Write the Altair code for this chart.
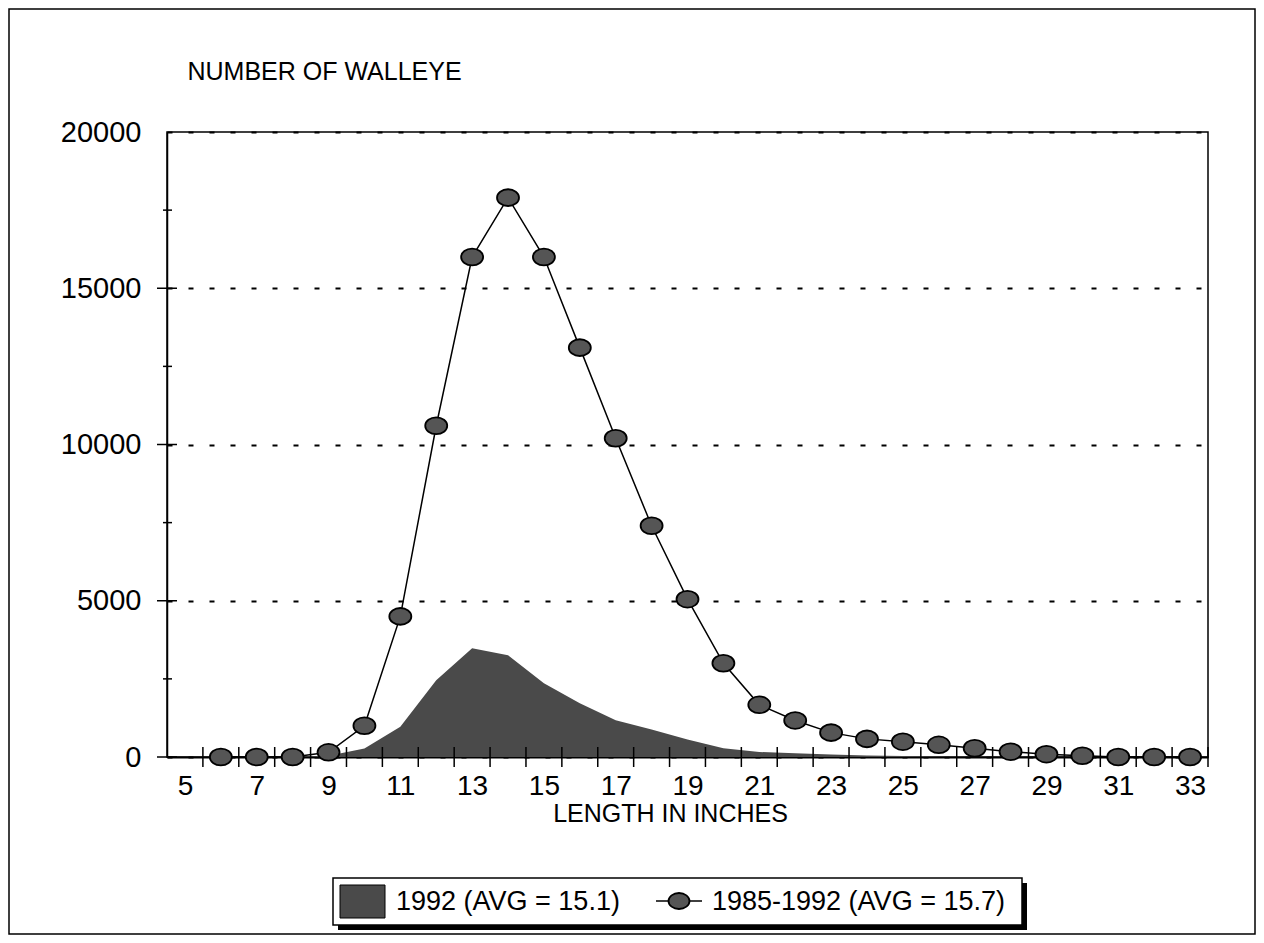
import altair as alt
import pandas as pd

# ---- data ----
lengths = list(range(6, 34))
avg_1985_1992 = [0, 0, 0, 150, 1000, 4500, 10600, 16000, 17900, 16000, 13100, 10200,
                 7400, 5050, 3000, 1670, 1170, 780, 580, 490, 390, 280, 170, 90, 40, 0, 0, 0]
catch_1992 = [0, 0, 0, 40, 270, 970, 2460, 3480, 3260, 2360, 1720, 1180,
              880, 560, 280, 160, 120, 80, 50, 30, 20, 10, 5, 0, 0, 0, 0, 0]
series_names = ["1992 (AVG = 15.1)", "1985-1992 (AVG = 15.7)"]
x_label_values = [5, 7, 9, 11, 13, 15, 17, 19, 21, 23, 25, 27, 29, 31, 33]
x_tick_marks = [5.5, 6.5, 7.5, 8.5, 9.5, 10.5, 11.5, 12.5, 13.5, 14.5, 15.5, 16.5, 17.5,
                18.5, 19.5, 20.5, 21.5, 22.5, 23.5, 24.5, 25.5, 26.5, 27.5, 28.5, 29.5,
                30.5, 31.5, 32.5, 33.5]
y_label_values = [0, 5000, 10000, 15000, 20000]
y_major_ticks = [0, 5000, 10000, 15000]
y_minor_ticks = [2500, 7500, 12500, 17500]

df_area = pd.DataFrame({"length": lengths, "value": catch_1992})
df_line = pd.DataFrame({"length": lengths, "value": avg_1985_1992})

W, H = 1041, 625
FONT = "Liberation Sans"
AREA_FILL = "#4a4a4a"
POINT_FILL = "#555555"

ellipse = ("M-1,0 C-1,-0.42 -0.552,-0.76 0,-0.76 C0.552,-0.76 1,-0.42 1,0 "
           "C1,0.42 0.552,0.76 0,0.76 C-0.552,0.76 -1,0.42 -1,0 Z")

xscale = alt.Scale(domain=[4.5, 33.5], nice=False, zero=False)
yscale = alt.Scale(domain=[0, 20000], nice=False)

x_axis = alt.Axis(values=x_label_values, ticks=False, grid=False, labelFlush=False,
                  labelPadding=15, labelFont=FONT, labelFontSize=28, labelColor="black",
                  domainColor="black", domainWidth=2,
                  title="LENGTH IN INCHES", titleFont=FONT, titleFontSize=25,
                  titleFontWeight="normal", titleColor="black",
                  titleX=503, titleY=64, titleAlign="center", titleBaseline="alphabetic")
y_axis = alt.Axis(values=y_label_values, ticks=False, grid=True, gridDash=[5, 16],
                  gridColor="black", gridWidth=1.8, labelFlush=False, format="d",
                  labelPadding=26, labelFont=FONT, labelFontSize=29, labelColor="black",
                  domainColor="black", domainWidth=1.5,
                  title="NUMBER OF WALLEYE", titleAngle=0, titleX=20, titleY=-53,
                  titleAlign="left", titleBaseline="alphabetic", titleFont=FONT,
                  titleFontSize=25, titleFontWeight="normal", titleColor="black")

X = alt.X("length:Q", scale=xscale, axis=x_axis)
Y = alt.Y("value:Q", scale=yscale, axis=y_axis)

area = alt.Chart(df_area).mark_area(opacity=1, color=AREA_FILL).encode(x=X, y=Y)
line = alt.Chart(df_line).mark_line(color="black", strokeWidth=1.5).encode(x=X, y=Y)
points = alt.Chart(df_line).mark_point(filled=True, shape=ellipse, size=484, opacity=1,
                                        fill=POINT_FILL, stroke="black", strokeWidth=1.8).encode(x=X, y=Y)

xt = alt.Chart(pd.DataFrame({"length": x_tick_marks})).mark_rule(color="black", strokeWidth=1.5).encode(
    x=X, y=alt.value(H - 10), y2=alt.value(H + 10))
ytm = alt.Chart(pd.DataFrame({"value": y_major_ticks})).mark_rule(color="black", strokeWidth=1.5).encode(
    y=Y, x=alt.value(-10), x2=alt.value(10))
ytn = alt.Chart(pd.DataFrame({"value": y_minor_ticks})).mark_rule(color="black", strokeWidth=1.5).encode(
    y=Y, x=alt.value(-4), x2=alt.value(5))

one = pd.DataFrame({"f": [0]})
frame = alt.Chart(one).mark_rect(fillOpacity=0, stroke="black", strokeWidth=1.5).encode(
    x=alt.value(-158), x2=alt.value(1088), y=alt.value(-123), y2=alt.value(802))

# ---- legend (boxed key below the plot) ----
LX, LY = 166, 746          # top-left of legend box relative to the plot origin
LW, LH = 689, 47
leg_shadow = alt.Chart(one).mark_rect(fill="black").encode(
    x=alt.value(LX + 5), x2=alt.value(LX + LW + 5), y=alt.value(LY + 5), y2=alt.value(LY + LH + 5))
leg_box = alt.Chart(one).mark_rect(fill="white", stroke="black", strokeWidth=1.5).encode(
    x=alt.value(LX), x2=alt.value(LX + LW), y=alt.value(LY), y2=alt.value(LY + LH))
leg_swatch = alt.Chart(one).mark_rect(fill=AREA_FILL, stroke="black", strokeWidth=1).encode(
    x=alt.value(LX + 7), x2=alt.value(LX + 52), y=alt.value(LY + 7), y2=alt.value(LY + 40))
leg_line = alt.Chart(one).mark_rule(color="black", strokeWidth=1.5).encode(
    x=alt.value(LX + 323), x2=alt.value(LX + 369), y=alt.value(LY + 23))
leg_point = alt.Chart(one).mark_point(filled=True, shape=ellipse, size=441, opacity=1,
                                      fill=POINT_FILL, stroke="black", strokeWidth=1.8).encode(
    x=alt.value(LX + 346), y=alt.value(LY + 23))
leg_text1 = alt.Chart(one).mark_text(align="left", baseline="middle", font=FONT, fontSize=27,
                                     color="black").encode(
    x=alt.value(LX + 63), y=alt.value(LY + 24), text=alt.value(series_names[0]))
leg_text2 = alt.Chart(one).mark_text(align="left", baseline="middle", font=FONT, fontSize=27,
                                     color="black").encode(
    x=alt.value(LX + 379), y=alt.value(LY + 24), text=alt.value(series_names[1]))

chart = alt.layer(area, line, points, xt, ytm, ytn, frame,
                  leg_shadow, leg_box, leg_swatch, leg_line, leg_point, leg_text1, leg_text2).properties(
    width=W, height=H,
    background="white",
    autosize=alt.AutoSizeParams(type="none"),
    padding={"left": 159, "top": 124, "right": 48, "bottom": 178},
).configure_view(stroke="black", strokeWidth=1.5)

chart.save("out.html", embed_options={"renderer": "svg", "actions": False})
